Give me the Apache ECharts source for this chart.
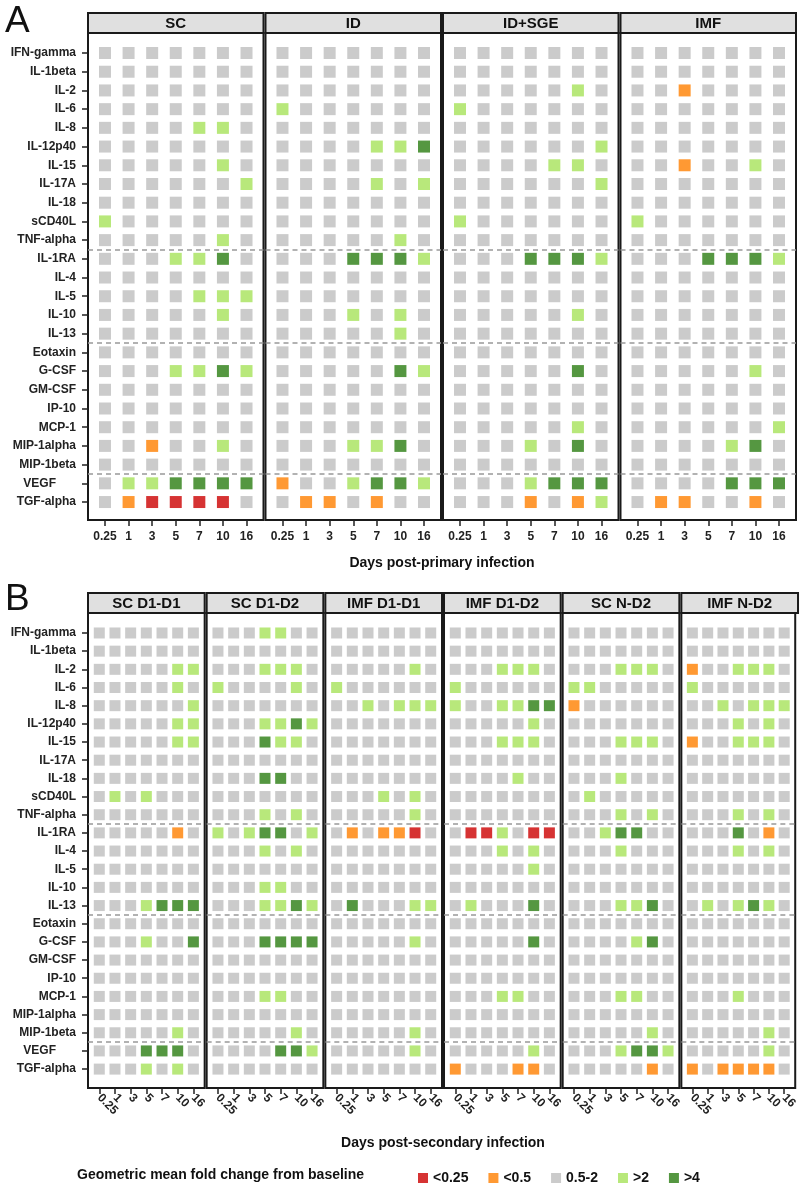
<!DOCTYPE html>
<html>
<head>
<meta charset="utf-8">
<script src="https://cdn.jsdelivr.net/npm/echarts@6/dist/echarts.min.js"></script>
<style>
html,body{margin:0;padding:0;background:#fff;}
#chart{width:800px;height:1185px;}
</style>
</head>
<body>
<div id="chart"></div>
<script>
// ---------------- DATA ----------------
const cytokines = ['IFN-gamma','IL-1beta','IL-2','IL-6','IL-8','IL-12p40','IL-15','IL-17A','IL-18','sCD40L','TNF-alpha',
  'IL-1RA','IL-4','IL-5','IL-10','IL-13',
  'Eotaxin','G-CSF','GM-CSF','IP-10','MCP-1','MIP-1alpha','MIP-1beta',
  'VEGF','TGF-alpha'];
const cytokineLabels = cytokines.map(c => c === 'VEGF' ? 'VEGF      ' : c);
const groupEnds = ['TNF-alpha','IL-13','MIP-1beta'];
const days = ['0.25','1','3','5','7','10','16'];
const classNames = ['<0.25','<0.5','0.5-2','>2','>4'];
const classColors = ['#CC0000','#FF8000','#BEBEBE','#A6E25A','#2B7D12'];

// codes per cytokine row, one digit per day: 0 <0.25, 1 <0.5, 2 0.5-2, 3 >2, 4 >4
const panelA_facets = ['SC','ID','ID+SGE','IMF'];
const A_SC = ['2222222','2222222','2222222','2222222','2222332','2222222','2222232','2222223','2222222','3222222','2222232',
  '2223342','2222222','2222333','2222232','2222222',
  '2222222','2223343','2222222','2222222','2222222','2212232','2222222',
  '2334444','2100002'];
const A_ID = ['2222222','2222222','2222222','3222222','2222222','2222334','2222222','2222323','2222222','2222222','2222232',
  '2224443','2222222','2222222','2223232','2222232',
  '2222222','2222243','2222222','2222222','2222222','2223342','2222222',
  '1223443','2112122'];
const A_IDSGE = ['2222222','2222222','2222232','3222222','2222222','2222223','2222332','2222223','2222222','3222222','2222222',
  '2224443','2222222','2222222','2222232','2222222',
  '2222222','2222242','2222222','2222222','2222232','2223242','2222222',
  '2223444','2221213'];
const A_IMF = ['2222222','2222222','2212222','2222222','2222222','2222222','2212232','2222222','2222222','3222222','2222222',
  '2224443','2222222','2222222','2222222','2222222',
  '2222222','2222232','2222222','2222222','2222223','2222342','2222222',
  '2222444','2112212'];

const panelB_facets = ['SC D1-D1','SC D1-D2','IMF D1-D1','IMF D1-D2','SC N-D2','IMF N-D2'];
const B_SC_D1D1 = ['2222222','2222222','2222233','2222232','2222223','2222233','2222233','2222222','2222222','2323222','2222222',
  '2222212','2222222','2222222','2222222','2223444',
  '2222222','2223224','2222222','2222222','2222222','2222222','2222232',
  '2224442','2223232'];
const B_SC_D1D2 = ['2223322','2222222','2223332','3222232','2222222','2223343','2224332','2222222','2224422','2222222','2223232',
  '3234423','2223232','2222222','2223322','2223343',
  '2222222','2224444','2222222','2222222','2223322','2222222','2222232',
  '2222443','2222222'];
const B_IMF_D1D1 = ['2222222','2222222','2222232','3222222','2232333','2222222','2222222','2222222','2222222','2223232','2222232',
  '2121102','2222222','2222222','2222222','2422233',
  '2222222','2222232','2222222','2222222','2222222','2222222','2222232',
  '2222232','2222222'];
const B_IMF_D1D2 = ['2222222','2222222','2223332','3222222','3223344','2222232','2223332','2222222','2222322','2222222','2222222',
  '2003200','2223232','2222232','2222222','2322242',
  '2222222','2222242','2222222','2222222','2223322','2222222','2222222',
  '2222232','1222112'];
const B_SC_ND2 = ['2222222','2222222','2223332','3322222','1222222','2222222','2223332','2222222','2223222','2322222','2223232',
  '2234422','2223222','2222222','2222222','2223342',
  '2222222','2222342','2222222','2222222','2223322','2222222','2222232',
  '2223443','2222212'];
const B_IMF_ND2 = ['2222222','2222222','1223332','3222222','2232333','2223232','1223332','2222222','2222222','2222222','2223232',
  '2224212','2223232','2222222','2222222','2323432',
  '2222222','2222222','2222222','2222222','2223222','2222222','2222232',
  '2222232','1211112'];

const panelA_data = [A_SC, A_ID, A_IDSGE, A_IMF];
const panelB_data = [B_SC_D1D1, B_SC_D1D2, B_IMF_D1D1, B_IMF_D1D2, B_SC_ND2, B_IMF_ND2];

// ---------------- LAYOUT ----------------
const FONT = "'Liberation Sans', Arial, Helvetica, sans-serif";
const panels = [
  {letter:'A', letterY:22, facets:panelA_facets, data:panelA_data, left0:88, width:175.5, gap:2,
   top:33, height:487, stripH:20, xPad:0.72, yMin:-1.07, yMax:24.96, sym:12,
   rotate:0, labelMargin:11, title:'Days post-primary infection', titleY:563},
  {letter:'B', letterY:600, facets:panelB_facets, data:panelB_data, left0:88, width:116.67, gap:2,
   top:613, height:475, stripH:20, xPad:0.72, yMin:-1.1, yMax:25.04, sym:11,
   rotate:-45, labelMargin:8, title:'Days post-secondary infection', titleY:1143}
];

const grids = [], xAxes = [], yAxes = [], series = [], graphics = [];
const rowIdx = cytokines.map((_, i) => i);
const dayIdx = days.map((_, i) => i);
const evenDays = dayIdx.filter(i => i % 2 === 0);
const oddDays = dayIdx.filter(i => i % 2 === 1);
const breaks = groupEnds.map(n => cytokines.indexOf(n) + 0.5);

function xLabel(p, values) {
  return {show:true, customValues:values, rotate:p.rotate, margin:p.labelMargin,
    showMinLabel:true, showMaxLabel:true, hideOverlap:false,
    formatter:v => days[Math.round(v)], fontFamily:FONT, fontWeight:'bold', fontSize:12, color:'#222'};
}

panels.forEach(p => {
  graphics.push({type:'text', x:5, y:p.letterY, style:{text:p.letter, font:'normal 37px ' + FONT, fill:'#111', textVerticalAlign:'middle'}});
  const totalW = p.facets.length * p.width + (p.facets.length - 1) * p.gap;
  graphics.push({type:'text', x:p.left0 + totalW / 2, y:p.titleY,
    style:{text:p.title, font:'bold 14px ' + FONT, fill:'#111', textAlign:'center', textVerticalAlign:'middle'}});
  p.facets.forEach((fname, fi) => {
    const gi = grids.length;
    const left = p.left0 + fi * (p.width + p.gap);
    grids.push({left:left, top:p.top, width:p.width, height:p.height, show:true,
      borderColor:'#1a1a1a', borderWidth:2, backgroundColor:'transparent', containLabel:false});
    // strip
    graphics.push({type:'rect', shape:{x:left, y:p.top - p.stripH, width:p.width, height:p.stripH},
      style:{fill:'#E0E0E0', stroke:'#1a1a1a', lineWidth:2}, z:10});
    graphics.push({type:'text', x:left + p.width / 2, y:p.top - p.stripH / 2 + 0.5, z:11,
      style:{text:fname, font:'bold 15px ' + FONT, fill:'#111', textAlign:'center', textVerticalAlign:'middle'}});
    const split = p.rotate !== 0;
    const xi = xAxes.length;
    xAxes.push({type:'value', gridIndex:gi, position:'bottom', min:-p.xPad, max:6 + p.xPad,
      axisLine:{show:false, onZero:false}, splitLine:{show:false},
      axisTick:{show:true, length:6, customValues:dayIdx, lineStyle:{color:'#222', width:1.5}},
      axisLabel:xLabel(p, split ? evenDays : dayIdx)});
    if (split) {
      // second axis on the same grid carries the alternate labels so none get dropped as overlapping
      xAxes.push({type:'value', gridIndex:gi, position:'bottom', offset:0, min:-p.xPad, max:6 + p.xPad,
        axisLine:{show:false, onZero:false}, splitLine:{show:false}, axisTick:{show:false},
        axisLabel:xLabel(p, oddDays)});
    }
    yAxes.push({type:'value', gridIndex:gi, position:'left', inverse:true, min:p.yMin, max:p.yMax,
      axisLine:{show:false, onZero:false}, splitLine:{show:false},
      axisTick:{show:fi === 0, length:6, customValues:rowIdx, lineStyle:{color:'#222', width:1.5}},
      axisLabel:{show:fi === 0, customValues:rowIdx, margin:12, showMinLabel:true, showMaxLabel:true, hideOverlap:false,
        formatter:v => cytokineLabels[Math.round(v)], fontFamily:FONT, fontWeight:'bold', fontSize:12, color:'#222'}});
    const rows = p.data[fi];
    classNames.forEach((cn, ci) => {
      const pts = [];
      rows.forEach((codes, r) => {
        for (let d = 0; d < codes.length; d++) {
          if (+codes[d] === ci) pts.push([d, r]);
        }
      });
      const s = {type:'scatter', name:cn, xAxisIndex:xi, yAxisIndex:gi, symbol:'rect',
        symbolSize:p.sym, itemStyle:{color:classColors[ci]}, data:pts, silent:true, z:3};
      if (ci === 2) {
        s.markLine = {silent:true, symbol:['none','none'], label:{show:false}, animation:false,
          lineStyle:{color:'#999', type:[5,4], width:1.5}, z:2,
          data:breaks.map(b => ({yAxis:b}))};
      }
      series.push(s);
    });
  });
});

graphics.push({type:'text', x:77, y:1175,
  style:{text:'Geometric mean fold change from baseline', font:'bold 14px ' + FONT, fill:'#111', textVerticalAlign:'middle'}});

const option = {
  animation:false,
  backgroundColor:'#fff',
  grid:grids, xAxis:xAxes, yAxis:yAxes, series:series,
  legend:{data:classNames, left:413, top:1166, icon:'rect', itemWidth:10, itemHeight:10, itemGap:20,
    selectedMode:false, textStyle:{fontFamily:FONT, fontWeight:'bold', fontSize:14, color:'#111'}},
  graphic:graphics
};
const chart = echarts.init(document.getElementById('chart'), null, {renderer:'canvas'});
chart.setOption(option);
</script>
</body>
</html>
